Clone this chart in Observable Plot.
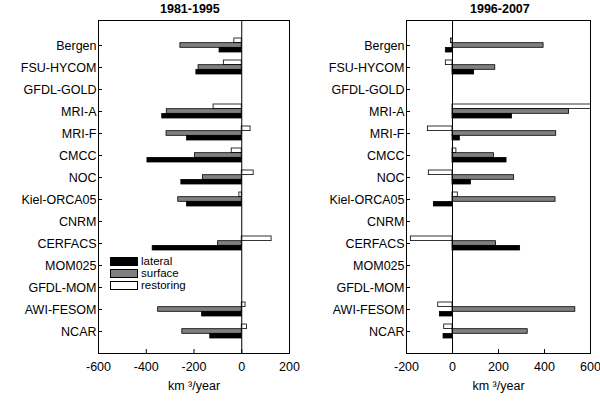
<!DOCTYPE html>
<html><head><meta charset="utf-8">
<script src="https://cdn.jsdelivr.net/npm/d3@7"></script>
<script src="https://cdn.jsdelivr.net/npm/@observablehq/plot@0.6"></script>
<style>
body{margin:0;background:#fff;font-family:"Liberation Sans",Arial,sans-serif;}
#wrap{position:relative;width:600px;height:401px;}
.p{position:absolute;top:0;}
.t{position:absolute;top:2px;font-weight:bold;font-size:12.5px;}
.lg{position:absolute;left:110px;top:255px;font-size:11.5px;line-height:12px;}
.lg div{display:flex;align-items:center;height:12px;}
.lg span{display:inline-block;width:28px;height:9px;border:1px solid #000;margin-right:3px;box-sizing:border-box;}
</style></head>
<body><div id="wrap"></div>
<script>
const models = ["Bergen","FSU-HYCOM","GFDL-GOLD","MRI-A","MRI-F","CMCC","NOC","Kiel-ORCA05","CNRM","CERFACS","MOM025","GFDL-MOM","AWI-FESOM","NCAR"];
// 1981-1995
const lat1 = [-93,-190,0,-333,-229,-395,-253,-229,0,-373,0,0,-166,-132];
const sur1 = [-257,-181,0,-314,-315,-196,-163,-266,0,-99,0,0,-350,-249];
const res1 = [-31,-75,0,-118,37,-42,50,-10,0,125,0,0,16,22];
// 1996-2007
const lat2 = [-29,94,0,259,32,235,80,-81,0,294,0,0,-55,-39];
const sur2 = [396,186,0,507,451,180,268,448,0,189,0,0,534,327];
const res2 = [-7,-29,0,700,-107,17,-103,23,0,-181,0,0,-62,-36];

const wrap = document.getElementById("wrap");

function panel(lat, sur, res, opts) {
  const rows = (vals) => models.map((m, i) => ({model: m, v: vals[i]}));
  const bar = (vals, fill, top, bottom) => Plot.barX(rows(vals), {
    x: "v", y: "model", fill, stroke: "black", strokeWidth: 0.8,
    insetTop: top, insetBottom: bottom, clip: true
  });
  return Plot.plot({
    width: 300, height: 401,
    marginTop: 20, marginBottom: 48, marginLeft: opts.ml, marginRight: opts.mr,
    style: {fontFamily: "Liberation Sans, Arial, sans-serif", fontSize: "12.5px", color: "#000"},
    x: {domain: opts.domain, ticks: opts.ticks, tickFormat: (d) => String(d), tickSize: -4, label: "km ³/year", labelAnchor: "center", labelOffset: 36, labelArrow: "none"},
    y: {domain: models, range: [33, 343], tickSize: -4, tickPadding: 6, label: null, padding: 0},
    marks: [
      bar(res, "white", 4, 13.4),
      bar(sur, "#808080", 8.7, 8.7),
      bar(lat, "black", 13.4, 4),
      Plot.ruleX([0], {strokeWidth: 1}),
      Plot.frame({stroke: "black"})
    ]
  });
}

const a = panel(lat1, sur1, res1, {ml: 98, mr: 11, domain: [-600, 200], ticks: [-600, -400, -200, 0, 200]});
a.classList.add("p"); a.style.left = "0px"; wrap.append(a);
const b = panel(lat2, sur2, res2, {ml: 106, mr: 10, domain: [-200, 600], ticks: [-200, 0, 200, 400, 600]});
b.classList.add("p"); b.style.left = "300px"; wrap.append(b);

wrap.insertAdjacentHTML("beforeend",
  `<div class="t" style="left:160px">1981-1995</div>
   <div class="t" style="left:470px">1996-2007</div>
   <div class="lg"><div><span style="background:#000"></span>lateral</div>
   <div><span style="background:#808080"></span>surface</div>
   <div><span style="background:#fff"></span>restoring</div></div>`);
</script></body></html>
